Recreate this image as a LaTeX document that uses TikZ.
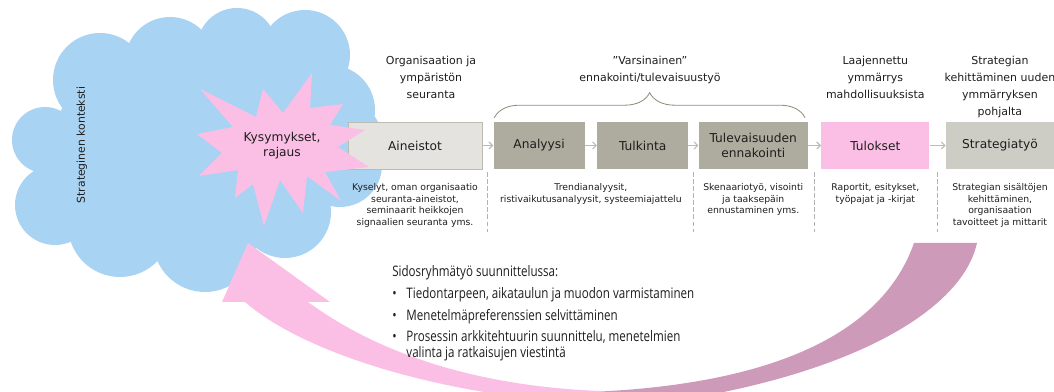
\documentclass[tikz,border=0pt]{standalone}
\usepackage{fontspec}
\setmainfont{DejaVu Sans}
\newfontfamily\listfont[FakeStretch=0.8]{Open Sans}
\usetikzlibrary{positioning, calc, arrows.meta, decorations.pathreplacing}

\definecolor{cloudblue}{HTML}{A9D3F3}
\definecolor{starpink}{HTML}{FBBFE6}
\definecolor{backpurple}{HTML}{CE9ABA}
\definecolor{lightbox}{HTML}{E4E3DF}
\definecolor{darkbox}{HTML}{AEAC9F}
\definecolor{midbox}{HTML}{CDCCC5}
\definecolor{edgegray}{HTML}{BDBCB3}
\definecolor{bracegray}{HTML}{8F8D80}
\definecolor{textgray}{HTML}{1E1E1E}

\tikzset{
  box/.style={minimum height=1.175cm, inner sep=1pt, align=center,
    font=\fontsize{8.7}{10.5}\selectfont, text=textgray},
  desc/.style={align=center, anchor=north, inner sep=0pt,
    font=\fontsize{6.6}{8.2}\selectfont, text=textgray},
  head/.style={align=center, anchor=north, inner sep=0pt,
    font=\fontsize{7.8}{12.1}\selectfont, text=textgray},
  flow/.style={draw=edgegray, line width=0.8pt, -{Straight Barb[length=2.5pt,width=5pt]}},
  sep/.style={draw=gray!60, dash pattern=on 3pt off 2pt, line width=0.5pt},
}

\begin{document}
\begin{tikzpicture}[x=0.025cm, y=-0.025cm]
  \clip (0,0) rectangle (1054,392);

  % cloud
  \fill[cloudblue] (200,150) ellipse[x radius=150, y radius=105];
  \foreach \cx/\cy/\r in {100/80/47, 170/62/45, 237/48/40, 305/55/45, 330/110/45,
      340/140/42, 340/165/42, 285/212/46, 205/240/52, 120/225/52, 55/205/40, 45/140/33}
    \fill[cloudblue] (\cx,\cy) circle[radius=\r];
  \node[rotate=90, font=\fontsize{7.7}{9}\selectfont, text=textgray] (K) at (82,145) {Strateginen konteksti};

  % curved arrow back to the cloud
  \fill[backpurple] (590,392) .. controls (760,385) and (880,340) .. (914,243)
    -- (977,243) .. controls (960,320) and (820,390) .. (600,410) -- cycle;
  \fill[starpink] (245,302) .. controls (300,350) and (430,395) .. (600,405)
    -- (600,391) .. controls (450,385) and (360,340) .. (308,302)
    -- (330,302) -- (248,243) -- (222,302) -- cycle;

  % process boxes
  \node[box, fill=lightbox, draw=edgegray, minimum width=3.35cm] (A) at (415,145.5) {Aineistot};
  \node[box, fill=darkbox, minimum width=2.275cm, right=0.275cm of A] (B) {Analyysi};
  \node[box, fill=darkbox, minimum width=2.275cm, right=0.3cm of B] (C) {Tulkinta};
  \node[box, fill=darkbox, minimum width=2.725cm, right=0.25cm of C] (D) {Tulevaisuuden\\ennakointi};
  \node[box, fill=starpink, minimum width=2.7cm, right=0.325cm of D] (E) {Tulokset};
  \node[box, fill=midbox, minimum width=2.7cm, right=0.4cm of E] (F) {Strategiatyö};

  \path[flow] (A) edge (B) (B) edge (C) (C) edge (D) (D) edge (E) (E) edge (F);

  % question star
  \fill[starpink] (312,73) -- (310,108) -- (343,104) -- (330,125) -- (365,130)
    -- (338,147) -- (369,167) -- (325,172) -- (341,201) -- (307,176) -- (303,213)
    -- (280,180) -- (264,226) -- (253,184) -- (235,198) -- (238,170) -- (199,176)
    -- (222,153) -- (197,134) -- (233,127) -- (200,89) -- (256,117) -- (263,89)
    -- (283,113) -- cycle;
  \node[box, minimum height=0pt] (Q) at (282,146) {Kysymykset,\\rajaus};

  % headings
  \coordinate (top) at (0,56);
  \node[head] (HA) at (431,56) {Organisaation ja\\ympäristön\\seuranta};
  \node[head] (HB) at (650,56) {”Varsinainen”\\ennakointi/tulevaisuustyö};
  \node[head] (HE) at (E.north |- top) {Laajennettu\\ymmärrys\\mahdollisuuksista};
  \node[head] (HF) at (F.north |- top) {Strategian\\kehittäminen uuden\\ymmärryksen\\pohjalta};

  \draw[bracegray, line width=0.6pt, decorate, decoration={brace, amplitude=0.625cm}]
    ([xshift=0.025cm, yshift=0.1cm]B.north west) -- ([xshift=-0.075cm, yshift=0.1cm]D.north east);

  % descriptions
  \node[desc, below=0.35cm of A] (DA) {Kyselyt, oman organisaatio\\seuranta-aineistot,\\seminaarit heikkojen\\signaalien seuranta yms.};
  \node[desc] (DB) at ($(B.south)!0.5!(C.south) + (0,14)$) {Trendianalyysit,\\ristivaikutusanalyysit, systeemiajattelu};
  \node[desc, below=0.35cm of D] (DD) {Skenaariotyö, visointi\\ja taaksepäin\\ennustaminen yms.};
  \node[desc, below=0.35cm of E] (DE) {Raportit, esitykset,\\työpajat ja -kirjat};
  \node[desc, below=0.35cm of F] (DF) {Strategian sisältöjen\\kehittäminen,\\organisaation\\tavoitteet ja mittarit};

  \foreach \p/\q in {A/B, C/D, D/E, E/F}
    \draw[sep] ($(\p.south east)!0.5!(\q.south west)$) ++(0,3) -- ++(0,60);

  % stakeholder list
  \node[anchor=north west, inner sep=0pt, text=textgray,
    font=\listfont\fontsize{10.3}{10.7}\selectfont] (L) at (392,265) {%
    \begin{tabular}{@{}l@{\hspace{7pt}}l@{}}
      \multicolumn{2}{@{}l@{}}{Sidosryhmätyö suunnittelussa:}\\[4.8pt]
      \textbullet & Tiedontarpeen, aikataulun ja muodon varmistaminen\\[4.3pt]
      \textbullet & Menetelmäpreferenssien selvittäminen\\[4.3pt]
      \textbullet & Prosessin arkkitehtuurin suunnittelu, menetelmien\\
                  & valinta ja ratkaisujen viestintä
    \end{tabular}};
\end{tikzpicture}
\end{document}
